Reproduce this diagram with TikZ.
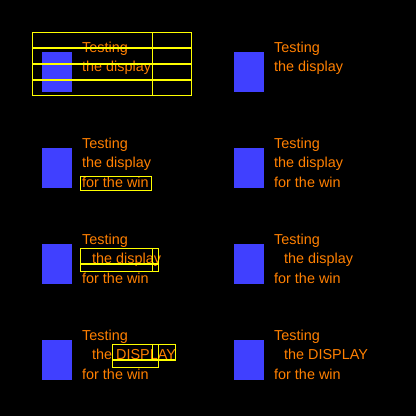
\documentclass[tikz,border=0pt]{standalone}
\usepackage{fontspec}
\setmainfont{Liberation Sans}
\definecolor{bgblack}{RGB}{0,0,0}
\definecolor{boxblue}{RGB}{64,64,255}
\definecolor{txtorange}{RGB}{255,128,0}
\definecolor{lineyellow}{RGB}{255,255,0}
\begin{document}
\begin{tikzpicture}[x=1pt,y=-1pt,
  bluebox/.style={fill=boxblue,draw=none},
  txt/.style={anchor=base west,inner sep=0pt,text=txtorange,font=\fontsize{14.4}{18}\selectfont},
  ybox/.style={draw=lineyellow,line width=1.2pt}]
\fill[bgblack] (0,0) rectangle (416,416);
\useasboundingbox (0,0) rectangle (416,416);
% ---------- Row 1 ----------
\fill[boxblue] (42,52) rectangle (72,92);
\node[txt] (t1a) at (82,52.3) {Testing};
\node[txt] (t1b) at (82,71.8) {the display};
\draw[ybox] (32.5,32.5) rectangle (191.5,95.5);
\draw[ybox] (32.5,48) -- (191.5,48);
\draw[ybox] (32.5,64) -- (191.5,64);
\draw[ybox] (32.5,80) -- (191.5,80);
\draw[ybox] (152.5,32.5) -- (152.5,95.5);
\fill[boxblue] (234,52) rectangle (264,92);
\node[txt] (r1a) at (274,52.3) {Testing};
\node[txt] (r1b) at (274,71.8) {the display};
% ---------- Row 2 ----------
\fill[boxblue] (42,148) rectangle (72,188);
\node[txt] (t2a) at (82,148.3) {Testing};
\node[txt] (t2b) at (82,167.8) {the display};
\node[txt] (t2c) at (82,187.3) {for the win};
\draw[ybox] (80.5,176.5) rectangle (151.5,190.5);
\fill[boxblue] (234,148) rectangle (264,188);
\node[txt] (r2a) at (274,148.3) {Testing};
\node[txt] (r2b) at (274,167.8) {the display};
\node[txt] (r2c) at (274,187.3) {for the win};
% ---------- Row 3 ----------
\fill[boxblue] (42,244) rectangle (72,284);
\node[txt] (t3a) at (82,244.3) {Testing};
\node[txt] (t3b) at (92,263.8) {the display};
\node[txt] (t3c) at (82,283.3) {for the win};
\draw[ybox] (80.5,248.5) rectangle (158.5,271.5);
\draw[ybox] (80.5,264) -- (158.5,264);
\draw[ybox] (152.5,248.5) -- (152.5,271.5);
\fill[boxblue] (234,244) rectangle (264,284);
\node[txt] (r3a) at (274,244.3) {Testing};
\node[txt] (r3b) at (284,263.8) {the display};
\node[txt] (r3c) at (274,283.3) {for the win};
% ---------- Row 4 ----------
\fill[boxblue] (42,340) rectangle (72,380);
\node[txt] (t4a) at (82,340.3) {Testing};
\node[txt] (t4b) at (92,359.8) {the DISPLAY};
\node[txt] (t4c) at (82,379.3) {for the win};
\draw[ybox] (112.5,344.5) rectangle (158.5,367.5);
\draw[ybox] (112.5,360) -- (158.5,360);
\draw[ybox] (152.5,344.5) rectangle (175.5,360);
\fill[boxblue] (234,340) rectangle (264,380);
\node[txt] (r4a) at (274,340.3) {Testing};
\node[txt] (r4b) at (284,359.8) {the DISPLAY};
\node[txt] (r4c) at (274,379.3) {for the win};
\end{tikzpicture}
\end{document}
